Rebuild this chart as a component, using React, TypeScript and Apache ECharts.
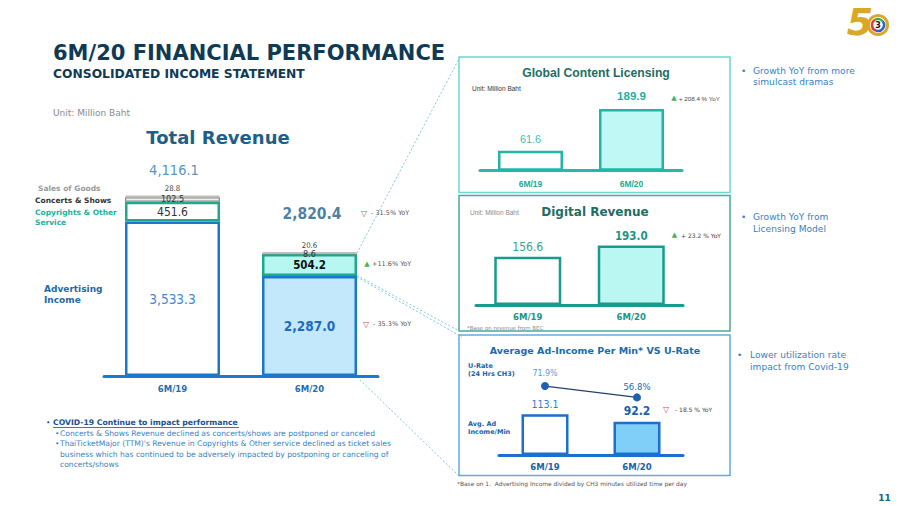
import React, { useEffect, useRef } from "react";
import * as echarts from "echarts";

// ---------- data ----------
const periods = ["6M/19", "6M/20"];
const advertising = [3533.3, 2287.0];
const copyrights = [451.6, 504.2];
const concerts = [102.5, 8.6];
const salesOfGoods = [28.8, 20.6];
const totalRevenue = [4116.1, 2820.4];
const globalLicensing = [61.6, 189.9];
const digitalRevenue = [156.6, 193.0];
const adIncomePerMin = [113.1, 92.2];
const uRate = [71.9, 56.8];
const yoyTotal = "- 31.5% YoY";
const yoyCopyrights = "+11.6% YoY";
const yoyAdvertising = "- 35.3% YoY";
const yoyLicensing = "+ 208.4 % YoY";
const yoyDigital = "+ 23.2 % YoY";
const yoyAdIncome = "- 18.5 % YoY";

const F = "DejaVu Sans";
const NF = "DejaVu Sans Condensed, DejaVu Sans";
const A = "Liberation Sans";

const fmt = (v: number) =>
  v.toLocaleString("en-US", { minimumFractionDigits: 1, maximumFractionDigits: 1 });

const txt = (x: number, y: number, text: string, font: string, fill: string, align = "left") => ({
  type: "text",
  x,
  y,
  silent: true,
  style: { text, font, fill, textAlign: align, textVerticalAlign: "middle" },
});

const dline = (x1: number, y1: number, x2: number, y2: number) => ({
  type: "line",
  silent: true,
  shape: { x1, y1, x2, y2 },
  style: { stroke: "#7ccbd8", lineWidth: 1, lineDash: [2, 2] },
});

const rectBox = (x: number, y: number, w: number, h: number, stroke: string) => ({
  type: "rect",
  silent: true,
  shape: { x, y, width: w, height: h },
  style: { fill: "none", stroke, lineWidth: 1.5 },
});

const upTri = (x: number, y: number) => txt(x, y, "▲", `7px ${F}`, "#4cb050", "center");
const downTri = (x: number, y: number) => txt(x, y, "▽", `bold 8px ${F}`, "#e8434f", "center");

export default function App() {
  const ref = useRef<HTMLDivElement>(null);

  useEffect(() => {
    document.body.style.margin = "0";
    const chart = echarts.init(ref.current!, undefined, { renderer: "svg" });

    const xCat = (gridIndex: number, lineColor: string, labelColor: string, size: number, margin: number, family: string) => ({
      type: "category",
      gridIndex,
      data: periods,
      axisLine: { show: true, lineStyle: { color: lineColor, width: 3 } },
      axisTick: { show: false },
      axisLabel: { color: labelColor, fontSize: size, fontWeight: "bold", fontFamily: family, margin },
    });
    const yVal = (gridIndex: number, min: number, max: number) => ({
      type: "value",
      gridIndex,
      min,
      max,
      show: false,
      splitLine: { show: false },
    });

    const blue = "#1b78cc";
    const teal = "#1fa88c";

    const graphic: any[] = [
      // titles
      txt(53, 53, "6M/20 FINANCIAL PERFORMANCE", `bold 21px ${F}`, "#0f3a55"),
      txt(53, 73.5, "CONSOLIDATED INCOME STATEMENT", `bold 12.3px ${F}`, "#0f3a55"),
      txt(53, 113, "Unit: Million Baht", `9px ${F}`, "#8a8a8a"),
      txt(218, 137, "Total Revenue", `bold 18px ${F}`, "#1d5f88", "center"),
      // left segment labels
      txt(38, 188, "Sales of Goods", `bold 7.5px ${F}`, "#9a9a9a"),
      txt(35, 200.5, "Concerts & Shows", `bold 7.5px ${F}`, "#333333"),
      txt(35, 212.5, "Copyrights & Other", `bold 7.5px ${F}`, "#22b29a"),
      txt(35, 222.5, "Service", `bold 7.5px ${F}`, "#22b29a"),
      txt(44, 288.5, "Advertising", `bold 9px ${F}`, "#1d6aa8"),
      txt(44, 300, "Income", `bold 9px ${F}`, "#1d6aa8"),
      // main YoY
      downTri(364, 213),
      txt(371, 213, yoyTotal, `6.5px ${F}`, "#555555"),
      upTri(367, 264),
      txt(372, 264, yoyCopyrights, `6.5px ${F}`, "#555555"),
      downTri(366, 324),
      txt(373, 324, yoyAdvertising, `6.5px ${F}`, "#555555"),
      // bottom bullets
      txt(46, 422.7, "•", `7.5px ${F}`, "#1f4f8f"),
      txt(53, 422.7, "COVID-19 Continue to impact performance", `bold 7.7px ${F}`, "#1f4f8f"),
      { type: "line", silent: true, shape: { x1: 53, y1: 427.5, x2: 239, y2: 427.5 }, style: { stroke: "#1f4f8f", lineWidth: 0.8 } },
      txt(55, 433.3, "•", `7.5px ${F}`, "#3a7fc0"),
      txt(60, 433.3, "Concerts & Shows Revenue declined as concerts/shows are postponed or canceled", `7.6px ${F}`, "#3a7fc0"),
      txt(55, 443.7, "•", `7.5px ${F}`, "#3a7fc0"),
      txt(60, 443.7, "ThaiTicketMajor (TTM)'s Revenue in Copyrights & Other service declined as ticket sales", `7.6px ${F}`, "#3a7fc0"),
      txt(60, 454, "business which has continued to be adversely impacted by postponing or canceling of", `7.6px ${F}`, "#3a7fc0"),
      txt(60, 464.3, "concerts/shows", `7.6px ${F}`, "#3a7fc0"),
      // connectors
      dline(357, 253, 460, 57),
      dline(357, 275.5, 459, 331),
      dline(357, 277, 462, 337),
      dline(357, 377, 459, 476),
      // panels
      rectBox(459, 57, 271, 135.5, "#6fd6d0"),
      rectBox(459, 195.5, 271, 135.5, "#4aa89c"),
      rectBox(459, 335, 271, 140.5, "#6aa6e6"),
      // panel 1
      txt(596, 72.5, "Global Content Licensing", `bold 12.2px ${A}`, "#1d6e62", "center"),
      txt(472, 88, "Unit: Million Baht", `6.5px ${A}`, "#333333"),
      upTri(674, 98.3),
      txt(679, 98.3, yoyLicensing, `6.2px ${A}`, "#444444"),
      // panel 2
      txt(595, 211.5, "Digital Revenue", `bold 12px ${F}`, "#1d6e62", "center"),
      txt(470, 212, "Unit: Million Baht", `6.5px ${A}`, "#8a8a8a"),
      upTri(674.5, 234.5),
      txt(681, 235, yoyDigital, `6px ${F}`, "#444444"),
      txt(467, 328.3, "*Base on revenue from BEC", `5.5px ${F}`, "#8a8a8a"),
      // panel 3
      txt(595, 350, "Average Ad-Income Per Min* VS U-Rate", `bold 9.5px ${F}`, "#1d6aa8", "center"),
      txt(468, 365.7, "U-Rate", `bold 6.5px ${F}`, "#1d5fa8"),
      txt(468, 373.5, "(24 Hrs CH3)", `bold 6.5px ${F}`, "#1d5fa8"),
      txt(468, 424.3, "Avg. Ad", `bold 6.5px ${F}`, "#1d5fa8"),
      txt(468, 431.8, "Income/Min", `bold 6.5px ${F}`, "#1d5fa8"),
      downTri(666, 409.5),
      txt(675, 409.5, yoyAdIncome, `6px ${F}`, "#444444"),
      txt(457, 484, "*Base on 1.  Advertising Income divided by CH3 minutes utilized time per day", `5.9px ${F}`, "#555555"),
      // right bullets
      txt(741, 70.7, "•", `9px ${F}`, "#3a80c0"),
      txt(753, 70.7, "Growth YoY from more", `9.1px ${F}`, "#3a80c0"),
      txt(753, 82.3, "simulcast dramas", `9.1px ${F}`, "#3a80c0"),
      txt(741, 217, "•", `9px ${F}`, "#3a80c0"),
      txt(753, 217, "Growth YoY from", `9.1px ${F}`, "#3a80c0"),
      txt(753, 229, "Licensing Model", `9.1px ${F}`, "#3a80c0"),
      txt(737, 355, "•", `9px ${F}`, "#3a80c0"),
      txt(750, 355, "Lower utilization rate", `9.1px ${F}`, "#3a80c0"),
      txt(750, 367, "impact from Covid-19", `9.1px ${F}`, "#3a80c0"),
      // page number
      txt(884.5, 498.3, "11", `bold 9px ${F}`, "#1d5f88", "center"),
      // logo
      {
        type: "group",
        silent: true,
        children: [
          txt(860, 22, "5", `italic bold 38px ${F}`, "#d9a826", "center"),
          { type: "circle", shape: { cx: 878, cy: 25, r: 9.5 }, style: { fill: "#ffffff", stroke: "#d9a826", lineWidth: 3 } },
          { type: "arc", shape: { cx: 878, cy: 25, r: 6, startAngle: 1.9, endAngle: 4.2 }, style: { stroke: "#e23b3b", lineWidth: 2.5, fill: "none" } },
          { type: "arc", shape: { cx: 878, cy: 25, r: 6, startAngle: 4.2, endAngle: 5.6 }, style: { stroke: "#2fae4a", lineWidth: 2.5, fill: "none" } },
          { type: "arc", shape: { cx: 878, cy: 25, r: 6, startAngle: 5.6, endAngle: 8.2 }, style: { stroke: "#2f5fd0", lineWidth: 2.5, fill: "none" } },
          txt(878, 25.5, "3", `bold 8px ${F}`, "#1a1a1a", "center"),
        ],
      },
    ];

    const option: any = {
      animation: false,
      backgroundColor: "#ffffff",
      grid: [
        { left: 104, top: 179.2, width: 274, height: 196.8 },
        { left: 480, top: 89.45, width: 202, height: 81.25 },
        { left: 476, top: 228, width: 207, height: 77 },
        { left: 499, top: 365, width: 184, height: 90 },
      ],
      xAxis: [
        xCat(0, blue, "#1f6fb0", 8.5, 8, F),
        xCat(1, "#27b8aa", "#1fa898", 8.5, 8.5, A),
        xCat(2, "#1a9a8c", "#1a9484", 8.5, 7.5, F),
        xCat(3, "#1a6fd0", "#1d5fa8", 8.5, 7.5, F),
      ],
      yAxis: [yVal(0, 0, 4500), yVal(1, 0, 250), yVal(2, 0, 250), yVal(3, 0, 250), yVal(3, -20, 100)],
      series: [
        {
          type: "bar",
          name: "Advertising Income",
          stack: "rev",
          xAxisIndex: 0,
          yAxisIndex: 0,
          barWidth: 95,
          data: advertising.map((v, i) => ({
            value: v,
            itemStyle: { color: i ? "#c4e8fb" : "#ffffff", borderColor: blue, borderWidth: 2.5 },
            label: {
              show: true,
              position: "inside",
              formatter: fmt(v),
              fontFamily: NF,
              fontSize: i ? 13.5 : 13.5,
              fontWeight: i ? "bold" : "normal",
              color: i ? "#1d6bbf" : "#3d8ad6",
            },
          })),
        },
        {
          type: "bar",
          name: "Copyrights & Other Service",
          stack: "rev",
          xAxisIndex: 0,
          yAxisIndex: 0,
          barWidth: 95,
          data: copyrights.map((v, i) => ({
            value: v,
            itemStyle: { color: i ? "#b6f7f1" : "#ffffff", borderColor: teal, borderWidth: 2.5 },
            label: {
              show: true,
              position: "inside",
              formatter: fmt(v),
              fontFamily: NF,
              fontSize: i ? 11.5 : 12,
              fontWeight: i ? "bold" : "normal",
              color: i ? "#111111" : "#333333",
            },
          })),
        },
        {
          type: "bar",
          name: "Concerts & Shows",
          stack: "rev",
          xAxisIndex: 0,
          yAxisIndex: 0,
          barWidth: 95,
          data: concerts.map((v) => ({
            value: v,
            itemStyle: { color: "#eeeeee", borderColor: "#8a8a8a", borderWidth: 1.2 },
            label: { show: true, position: "inside", formatter: fmt(v), fontFamily: NF, fontSize: 9, color: "#333333" },
          })),
        },
        {
          type: "bar",
          name: "Sales of Goods",
          stack: "rev",
          xAxisIndex: 0,
          yAxisIndex: 0,
          barWidth: 95,
          data: salesOfGoods.map((v) => ({
            value: v,
            itemStyle: { color: "#dddddd", borderColor: "#bdbdbd", borderWidth: 2 },
            label: { show: true, position: "top", distance: 3, formatter: fmt(v), fontFamily: NF, fontSize: 7.8, color: "#444444" },
          })),
        },
        {
          type: "scatter",
          name: "Total Revenue",
          xAxisIndex: 0,
          yAxisIndex: 0,
          symbolSize: 0,
          itemStyle: { color: "transparent" },
          data: totalRevenue.map((v, i) => ({
            value: v,
            label: {
              show: true,
              position: "top",
              distance: i ? 31 : 18,
              offset: i ? [2.5, 0] : [1.5, 0],
              formatter: fmt(v),
              fontFamily: NF,
              fontSize: i ? 15.5 : 14.5,
              fontWeight: i ? "bold" : "normal",
              color: i ? "#1b5e8a" : "#2a78b0",
            },
          })),
        },
        {
          type: "bar",
          name: "Global Content Licensing",
          xAxisIndex: 1,
          yAxisIndex: 1,
          barWidth: 65,
          data: globalLicensing.map((v, i) => ({
            value: v,
            itemStyle: { color: i ? "#bff8f5" : "#ffffff", borderColor: "#22b5a6", borderWidth: 2.5 },
            label: {
              show: true,
              position: "top",
              distance: 6.5,
              formatter: fmt(v),
              fontFamily: A,
              fontSize: i ? 11.5 : 10.8,
              fontWeight: i ? "bold" : "normal",
              color: i ? "#21b0a3" : "#3cc0b4",
            },
          })),
        },
        {
          type: "bar",
          name: "Digital Revenue",
          xAxisIndex: 2,
          yAxisIndex: 2,
          barWidth: 67,
          data: digitalRevenue.map((v, i) => ({
            value: v,
            itemStyle: { color: i ? "#baf7f2" : "#ffffff", borderColor: "#1a9a8a", borderWidth: 2.5 },
            label: {
              show: true,
              position: "top",
              distance: 4,
              formatter: fmt(v),
              fontFamily: NF,
              fontSize: i ? 11.5 : 12,
              fontWeight: i ? "bold" : "normal",
              color: i ? "#1a9484" : "#2ba596",
            },
          })),
        },
        {
          type: "bar",
          name: "Avg. Ad Income/Min",
          xAxisIndex: 3,
          yAxisIndex: 3,
          barWidth: 47,
          data: adIncomePerMin.map((v, i) => ({
            value: v,
            itemStyle: { color: i ? "#80cff8" : "#ffffff", borderColor: "#1a6fd0", borderWidth: 2.5 },
            label: {
              show: true,
              position: "top",
              distance: 4.5,
              formatter: fmt(v),
              fontFamily: NF,
              fontSize: i ? 12 : 10.5,
              fontWeight: i ? "bold" : "normal",
              color: i ? "#1a5fa8" : "#2f80d0",
            },
          })),
        },
        {
          type: "line",
          name: "U-Rate",
          xAxisIndex: 3,
          yAxisIndex: 4,
          symbol: "circle",
          symbolSize: 8,
          itemStyle: { color: "#1f5fb0" },
          lineStyle: { color: "#253f72", width: 1.2 },
          data: uRate.map((v, i) => ({
            value: v,
            label: {
              show: true,
              position: "top",
              distance: i ? 2 : 4.5,
              formatter: `${v.toFixed(1)}%`,
              fontFamily: NF,
              fontSize: i ? 9.5 : 8.8,
              color: i ? "#1d6aa8" : "#5d9bd6",
            },
          })),
        },
      ],
      graphic,
    };

    chart.setOption(option);
    return () => chart.dispose();
  }, []);

  return (
    <div
      ref={ref}
      style={{ position: "absolute", left: 0, top: 0, width: 900, height: 506, background: "#ffffff" }}
    />
  );
}
